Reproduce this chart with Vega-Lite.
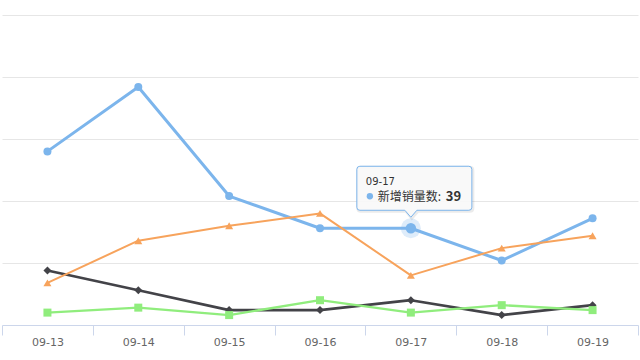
{
  "$schema": "https://vega.github.io/schema/vega-lite/v6.json",
  "width": 636,
  "height": 310,
  "autosize": {"type": "none"},
  "padding": {"left": 2, "right": 2, "top": 15, "bottom": 35},
  "background": "white",
  "config": {"view": {"stroke": null}, "font": "Noto Sans CJK SC"},
  "data": {
    "values": [
      {"date": "09-13", "series": "新增销量数", "value": 70},
      {"date": "09-14", "series": "新增销量数", "value": 96},
      {"date": "09-15", "series": "新增销量数", "value": 52},
      {"date": "09-16", "series": "新增销量数", "value": 39},
      {"date": "09-17", "series": "新增销量数", "value": 39},
      {"date": "09-18", "series": "新增销量数", "value": 26},
      {"date": "09-19", "series": "新增销量数", "value": 43},
      {"date": "09-13", "series": "系列2", "value": 22},
      {"date": "09-14", "series": "系列2", "value": 14},
      {"date": "09-15", "series": "系列2", "value": 6},
      {"date": "09-16", "series": "系列2", "value": 6},
      {"date": "09-17", "series": "系列2", "value": 10},
      {"date": "09-18", "series": "系列2", "value": 4},
      {"date": "09-19", "series": "系列2", "value": 8},
      {"date": "09-13", "series": "系列3", "value": 5},
      {"date": "09-14", "series": "系列3", "value": 7},
      {"date": "09-15", "series": "系列3", "value": 4},
      {"date": "09-16", "series": "系列3", "value": 10},
      {"date": "09-17", "series": "系列3", "value": 5},
      {"date": "09-18", "series": "系列3", "value": 8},
      {"date": "09-19", "series": "系列3", "value": 6},
      {"date": "09-13", "series": "系列4", "value": 17},
      {"date": "09-14", "series": "系列4", "value": 34},
      {"date": "09-15", "series": "系列4", "value": 40},
      {"date": "09-16", "series": "系列4", "value": 45},
      {"date": "09-17", "series": "系列4", "value": 20},
      {"date": "09-18", "series": "系列4", "value": 31},
      {"date": "09-19", "series": "系列4", "value": 36}
    ]
  },
  "encoding": {
    "x": {
      "field": "date",
      "type": "ordinal",
      "scale": {"type": "band", "paddingInner": 0, "paddingOuter": 0},
      "axis": {
        "title": null,
        "labelAngle": 0,
        "tickBand": "extent",
        "domainColor": "#ccd6eb",
        "tickColor": "#ccd6eb",
        "tickSize": 10,
        "labelColor": "#666666",
        "labelFontSize": 11,
        "labelFont": "DejaVu Sans",
        "labelPadding": 1,
        "grid": false
      }
    },
    "y": {
      "field": "value",
      "type": "quantitative",
      "scale": {"domain": [0, 125], "nice": false},
      "axis": {
        "title": null,
        "values": [25, 50, 75, 100, 125],
        "domain": false,
        "ticks": false,
        "labels": false,
        "grid": true,
        "gridColor": "#e6e6e6"
      }
    }
  },
  "layer": [
    {
      "mark": {"type": "line", "strokeJoin": "round", "strokeCap": "round"},
      "encoding": {
        "color": {"field": "series", "type": "nominal", "scale": {"domain": ["新增销量数", "系列2", "系列3", "系列4"], "range": ["#7cb5ec", "#434348", "#90ed7d", "#f7a35c"]}, "legend": null},
        "strokeWidth": {"field": "series", "type": "nominal", "scale": {"domain": ["新增销量数", "系列2", "系列3", "系列4"], "range": [3, 2, 2, 2]}, "legend": null}
      }
    },
    {
      "mark": {"type": "point", "filled": true, "opacity": 1},
      "encoding": {
        "color": {"field": "series", "type": "nominal", "scale": {"domain": ["新增销量数", "系列2", "系列3", "系列4"], "range": ["#7cb5ec", "#434348", "#90ed7d", "#f7a35c"]}, "legend": null},
        "shape": {"field": "series", "type": "nominal", "scale": {"domain": ["新增销量数", "系列2", "系列3", "系列4"], "range": ["circle", "diamond", "square", "triangle-up"]}, "legend": null},
        "size": {"value": 64}
      }
    },
    {
      "transform": [{"filter": "datum.series == '新增销量数' && datum.date == '09-17'"}],
      "mark": {"type": "point", "filled": true, "shape": "circle", "color": "#7cb5ec", "opacity": 0.25, "size": 400}
    },
    {
      "transform": [{"filter": "datum.series == '新增销量数' && datum.date == '09-17'"}],
      "mark": {"type": "point", "filled": true, "shape": "circle", "color": "#7cb5ec", "opacity": 1, "size": 110}
    },
    {
      "transform": [{"filter": "datum.series == '新增销量数' && datum.date == '09-17'"}],
      "mark": {
        "type": "point", "filled": false, "fill": null, "stroke": "#000000", "strokeOpacity": 0.08, "strokeWidth": 3, "opacity": 1,
        "xOffset": 1, "yOffset": 1,
        "shape": "M -0.51 -0.62 L 0.58 -0.62 Q 0.61 -0.62 0.61 -0.59 L 0.61 -0.21 Q 0.61 -0.18 0.58 -0.18 L 0.06 -0.18 L 0 -0.11 L -0.06 -0.18 L -0.51 -0.18 Q -0.54 -0.18 -0.54 -0.21 L -0.54 -0.59 Q -0.54 -0.62 -0.51 -0.62 Z",
        "size": 40000
      }
    },
    {
      "transform": [{"filter": "datum.series == '新增销量数' && datum.date == '09-17'"}],
      "mark": {
        "type": "point", "filled": true, "fill": "#f8f8f8", "fillOpacity": 0.92, "stroke": "#7cb5ec", "strokeWidth": 1, "opacity": 1,
        "shape": "M -0.51 -0.62 L 0.58 -0.62 Q 0.61 -0.62 0.61 -0.59 L 0.61 -0.21 Q 0.61 -0.18 0.58 -0.18 L 0.06 -0.18 L 0 -0.11 L -0.06 -0.18 L -0.51 -0.18 Q -0.54 -0.18 -0.54 -0.21 L -0.54 -0.59 Q -0.54 -0.62 -0.51 -0.62 Z",
        "size": 40000
      }
    },
    {
      "transform": [{"filter": "datum.series == '新增销量数' && datum.date == '09-17'"}],
      "mark": {"type": "text", "text": "09-17", "align": "left", "baseline": "alphabetic", "dx": -45, "dy": -43, "fontSize": 10, "color": "#333333", "font": "DejaVu Sans"}
    },
    {
      "transform": [{"filter": "datum.series == '新增销量数' && datum.date == '09-17'"}],
      "mark": {"type": "point", "filled": true, "shape": "circle", "color": "#7cb5ec", "opacity": 1, "size": 40, "xOffset": -41, "yOffset": -32}
    },
    {
      "transform": [{"filter": "datum.series == '新增销量数' && datum.date == '09-17'"}],
      "mark": {"type": "text", "text": "新增销量数:", "align": "left", "baseline": "alphabetic", "dx": -33, "dy": -27, "fontSize": 12, "color": "#333333"}
    },
    {
      "transform": [{"filter": "datum.series == '新增销量数' && datum.date == '09-17'"}],
      "mark": {"type": "text", "text": "39", "align": "left", "baseline": "alphabetic", "dx": 35, "dy": -27, "fontSize": 13, "fontWeight": "bold", "color": "#333333"}
    }
  ]
}
